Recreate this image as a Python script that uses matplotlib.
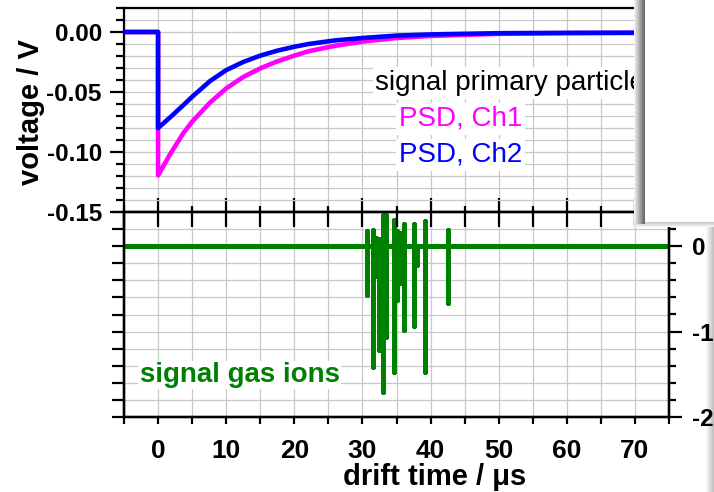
import matplotlib
matplotlib.use("Agg")
import matplotlib.pyplot as plt
from matplotlib.patches import Rectangle
from matplotlib.ticker import MultipleLocator, FixedLocator, FormatStrFormatter

plt.rcParams['font.family'] = ['Liberation Sans', 'DejaVu Sans']
plt.rcParams['axes.unicode_minus'] = False

# ---- data ----
t_psd = [-5, 0, 0, 1.7, 3.7, 5, 7.6, 10, 12.5, 15, 17.4, 20, 22.1, 26, 30, 35, 40, 50, 60, 75]
v_ch1 = [0, 0, -0.1195, -0.1025, -0.0844, -0.0747, -0.059, -0.047, -0.0375, -0.0303, -0.0247,
         -0.0197, -0.016, -0.0115, -0.008, -0.005, -0.0033, -0.0015, -0.001, -0.0007]
v_ch2 = [0, 0, -0.080, -0.0715, -0.061, -0.054, -0.041, -0.0318, -0.025, -0.0197, -0.0157,
         -0.0123, -0.010, -0.007, -0.005, -0.003, -0.002, -0.001, -0.0007, -0.0005]

spike_t = [30.6, 31.5, 32.0, 32.4, 33.0, 33.5, 34.6, 35.1, 35.5, 36.1, 37.5, 38.0, 39.2, 42.6]
spike_hi = [0.18, 0.19, 0.10, 0.08, 0.37, 0.37, 0.31, 0.18, 0.15, 0.26, 0.26, 0.0, 0.29, 0.19]
spike_lo = [-0.57, -1.41, -0.35, -1.22, -1.71, -1.06, -1.47, -0.63, -0.43, -0.98, -0.94, -0.22, -1.47, -0.66]
gas_t_range = [-5, 75]

W, H = 714, 492
fig = plt.figure(figsize=(W / 100, H / 100), dpi=100)

def fx(px):
    return px / W

def fy(py):
    return 1 - py / H

L, R = 124, 669
ax1 = fig.add_axes([fx(L), fy(212), fx(R - L), (212 - 8) / H])
ax2 = fig.add_axes([fx(L), fy(417), fx(R - L), (417 - 212) / H])

grid_c = '#c8c8c8'
lw_sp = 1.6

# ---- top panel ----
ax1.plot(t_psd, v_ch1, color='#ff00ff', lw=3.3, solid_joinstyle='round', solid_capstyle='round', zorder=3)
ax1.plot(t_psd, v_ch2, color='#0000ff', lw=3.3, solid_joinstyle='round', solid_capstyle='round', zorder=4)
ax1.set_xlim(-5, 75)
ax1.set_ylim(-0.15, 0.02)
ax1.xaxis.set_major_locator(MultipleLocator(10))
ax1.xaxis.set_minor_locator(MultipleLocator(5))
ax1.yaxis.set_major_locator(FixedLocator([-0.15, -0.10, -0.05, 0.0]))
ax1.yaxis.set_minor_locator(MultipleLocator(0.01))
ax1.yaxis.set_major_formatter(FormatStrFormatter('%.2f'))
ax1.grid(True, which='both', color=grid_c, lw=0.9, zorder=0)
ax1.set_axisbelow(True)
ax1.tick_params(axis='x', which='major', direction='in', length=10, width=1.6, labelbottom=False)
ax1.tick_params(axis='x', which='minor', direction='in', length=4.5, width=1.6)
ax1.tick_params(axis='y', which='major', direction='out', length=10, width=1.6, pad=6,
                labelsize=17.5)
ax1.tick_params(axis='y', which='minor', direction='out', length=6, width=1.6)
for lab in ax1.get_yticklabels():
    lab.set_fontweight('bold')
for s in ax1.spines.values():
    s.set_linewidth(lw_sp)

tb = dict(facecolor='white', edgecolor='none', pad=2)
ax1.text(31.9, -0.0483, 'signal primary particle', fontsize=20, color='black', bbox=tb, zorder=5)
ax1.text(35.4, -0.0783, 'PSD, Ch1', fontsize=20, color='#ff00ff', bbox=tb, zorder=5)
ax1.text(35.4, -0.1083, 'PSD, Ch2', fontsize=20, color='#0000ff', bbox=tb, zorder=5)

# ---- bottom panel ----
gx, gy = [gas_t_range[0]], [0.0]
for t, hi, lo in zip(spike_t, spike_hi, spike_lo):
    gx += [t, t, t, t]
    gy += [0.0, hi, lo, 0.0]
gx.append(gas_t_range[1])
gy.append(0.0)
ax2.plot(gx, gy, color='#008000', lw=3.6, solid_joinstyle='round', solid_capstyle='round', zorder=3)
ax2.set_xlim(-5, 75)
ax2.set_ylim(-2, 0.4)
ax2.xaxis.set_major_locator(MultipleLocator(10))
ax2.xaxis.set_minor_locator(MultipleLocator(5))
ax2.yaxis.set_major_locator(MultipleLocator(0.2))
ax2.grid(True, which='both', color=grid_c, lw=0.9, zorder=0)
ax2.set_axisbelow(True)
ax2.tick_params(axis='x', which='both', direction='out', length=5, width=1.6, pad=11, labelsize=19)
ax2.tick_params(axis='y', which='both', direction='out', length=9, width=1.6, labelleft=False)
for lab in ax2.get_xticklabels():
    lab.set_fontweight('bold')
for s in ax2.spines.values():
    s.set_linewidth(lw_sp)

ax2.text(-2.7, -1.59, 'signal gas ions', fontsize=20, fontweight='bold', color='#008000',
         bbox=dict(facecolor='white', edgecolor='none', pad=1), zorder=5)

# top ticks of bottom panel
ax2t = ax2.twiny()
ax2t.set_xlim(-5, 75)
ax2t.xaxis.set_major_locator(MultipleLocator(5))
ax2t.tick_params(axis='x', direction='in', length=11, width=1.6, labeltop=False)
# right ticks/labels of bottom panel
ax2r = ax2.twinx()
ax2r.set_ylim(-2, 0.4)
ax2r.yaxis.set_major_locator(FixedLocator([-2, -1, 0]))
ax2r.yaxis.set_minor_locator(MultipleLocator(0.2))
ax2r.tick_params(axis='y', which='major', direction='out', length=9.5, width=1.6, pad=7, labelsize=17.5)
ax2r.tick_params(axis='y', which='minor', direction='out', length=5, width=1.6)
ax2r.yaxis.set_major_formatter(FormatStrFormatter('%d'))
for lab in ax2r.get_yticklabels():
    lab.set_fontweight('bold')
for a in (ax2t, ax2r):
    for s in a.spines.values():
        s.set_linewidth(lw_sp)

# axis labels
fig.text(fx(31), fy(112), 'voltage / V', rotation=90, ha='center', va='center',
         fontsize=21, fontweight='bold')
fig.text(fx(435), fy(485), 'drift time / μs', ha='center', va='baseline',
         fontsize=21, fontweight='bold')

# ---- overlay window and shadows ----
def frect(x0, y0, x1, y1, color, z):
    fig.add_artist(Rectangle((fx(x0), fy(y1)), fx(x1 - x0), (y1 - y0) / H,
                             transform=fig.transFigure, facecolor=color, edgecolor='none', zorder=z))

# right-edge shadow (behind everything)
for i in range(9):
    g = 1.0 - 0.03 * i
    frect(705 + i, 222, 706 + i, H, (g, g, g), -1)
# bottom shadow of window
for i in range(6):
    g = 0.75 + 0.04 * i
    frect(633, 221 + i, W, 222 + i, (g, g, g), 20)
# left shadow of window
for i in range(11):
    g = 0.95 - 0.055 * i
    frect(634 + i, 0, 635 + i, 224, (g, g, g), 21)
frect(645, 0, W, 222, 'white', 22)

fig.savefig('out.png', dpi=100)
